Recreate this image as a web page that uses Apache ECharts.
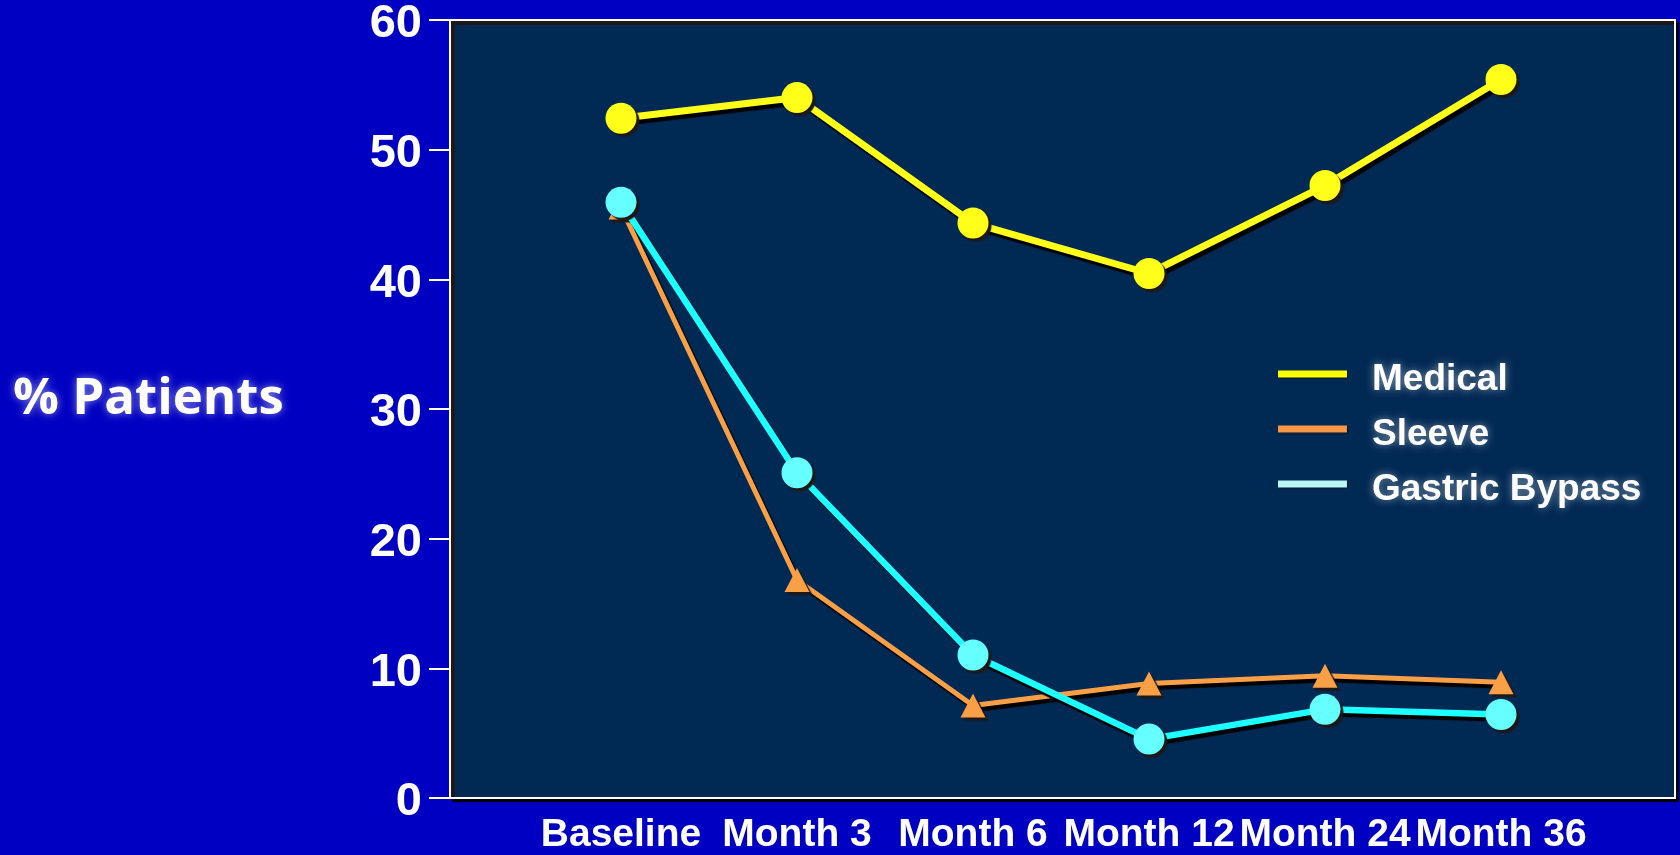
<!DOCTYPE html>
<html>
<head>
<meta charset="utf-8">
<script src="https://cdn.jsdelivr.net/npm/echarts@6/dist/echarts.min.js"></script>
<style>
  html, body { margin: 0; padding: 0; background: #0000c2; }
  #chart { width: 1680px; height: 855px; }
</style>
</head>
<body>
<div id="chart"></div>
<script>
// Share of patients at each follow-up visit, by treatment arm
const categories = ['Baseline', 'Month 3', 'Month 6', 'Month 12', 'Month 24', 'Month 36'];
const medical = [52.4, 54.0, 44.3, 40.4, 47.2, 55.4];
const sleeve = [45.5, 16.7, 7.0, 8.7, 9.3, 8.8];
const gastricBypass = [45.9, 25.0, 10.9, 4.4, 6.7, 6.3];
const yTicks = { min: 0, max: 60, interval: 10 };

const FONT = '"Liberation Sans", Arial, sans-serif';
const darkShadow = { shadowColor: 'rgba(0,0,0,1)', shadowBlur: 1, shadowOffsetX: 3, shadowOffsetY: 4 };
const markShadow = { shadowColor: 'rgba(30,25,25,1)', shadowBlur: 1, shadowOffsetX: 3, shadowOffsetY: 3 };
const legendIconShadow = { shadowColor: 'rgba(0,0,0,0.5)', shadowOffsetX: 1, shadowOffsetY: 1, shadowBlur: 1 };
// legend key: a bar sitting in the upper part of its box, so the label reads slightly lower
const legendBar = 'path://M0,0h69v7h-69zM0,18h0.01v0.01h-0.01z';

const tickLabelStyle = {
  fontFamily: FONT,
  fontWeight: 'bold',
  fontSize: 47,
  color: '#ffffff',
  textShadowColor: '#000000',
  textShadowOffsetX: 3,
  textShadowOffsetY: 3,
  textShadowBlur: 0
};

const chart = echarts.init(document.getElementById('chart'));

chart.setOption({
  animation: false,
  backgroundColor: '#0000c2',
  title: {
    text: '% Patients',
    left: 8,
    top: 369,
    textStyle: {
      fontFamily: '"Open Sans", sans-serif',
      fontWeight: 'bold',
      fontSize: 51,
      color: '#ffffff',
      textShadowColor: 'rgba(255,255,255,0.55)',
      textShadowBlur: 8
    }
  },
  legend: {
    orient: 'vertical',
    left: 1273,
    top: 356,
    icon: legendBar,
    itemWidth: 69,
    itemHeight: 18,
    itemGap: 18,
    selectedMode: false,
    textStyle: {
      fontFamily: FONT,
      fontWeight: 'bold',
      fontSize: 37,
      lineHeight: 36,
      color: '#ffffff',
      padding: [0, 0, 0, 20],
      textShadowColor: 'rgba(255,255,255,0.5)',
      textShadowBlur: 8
    },
    data: [
      { name: 'Medical', itemStyle: Object.assign({ color: '#ffff00' }, legendIconShadow) },
      { name: 'Sleeve', itemStyle: Object.assign({ color: '#f79646' }, legendIconShadow) },
      { name: 'Gastric Bypass', itemStyle: Object.assign({ color: '#b8f5f5' }, legendIconShadow) }
    ]
  },
  grid: [
    {
      // plotting frame with the value axis
      left: 450, right: 5, top: 20, bottom: 57,
      show: true,
      backgroundColor: '#002954',
      borderColor: '#ffffff',
      borderWidth: 2,
      shadowColor: 'rgba(0,0,0,0.9)',
      shadowBlur: 1,
      shadowOffsetX: 3,
      shadowOffsetY: 3
    },
    {
      // area where the follow-up points are spread
      left: 533, right: 91, top: 20, bottom: 57
    }
  ],
  graphic: [
    {
      type: 'polyline',
      z: 1,
      silent: true,
      shape: { points: [[453, 796], [453, 23], [1673, 23]] },
      style: { stroke: '#1a1a1a', lineWidth: 4, fill: null }
    }
  ],
  xAxis: [
    {
      gridIndex: 0,
      type: 'value',
      show: false
    },
    {
      gridIndex: 1,
      type: 'category',
      data: categories,
      boundaryGap: true,
      axisLine: { show: false },
      axisTick: { show: false },
      axisLabel: {
        interval: 0,
        margin: 20,
        fontFamily: FONT,
        fontWeight: 'bold',
        fontSize: 39,
        color: '#ffffff',
        textShadowColor: '#000000',
        textShadowOffsetX: 3,
        textShadowOffsetY: 3,
        textShadowBlur: 0
      }
    }
  ],
  yAxis: [
    {
      gridIndex: 0,
      type: 'value',
      min: yTicks.min,
      max: yTicks.max,
      interval: yTicks.interval,
      splitLine: { show: false },
      axisLine: { show: true, lineStyle: { color: '#ffffff', width: 2 } },
      axisTick: { show: true, inside: false, length: 21, lineStyle: { color: '#ffffff', width: 2 } },
      axisLabel: Object.assign({
        margin: 28,
        formatter: '{v|{value}}',
        rich: {
          // taller line box with the digits resting at its bottom: sits the number a touch below its tick
          v: Object.assign({ lineHeight: 56, verticalAlign: 'bottom' }, tickLabelStyle)
        }
      }, tickLabelStyle)
    },
    {
      gridIndex: 1,
      type: 'value',
      min: yTicks.min,
      max: yTicks.max,
      interval: yTicks.interval,
      show: false,
      splitLine: { show: false }
    }
  ],
  series: [
    {
      name: 'Sleeve',
      type: 'line',
      xAxisIndex: 1,
      yAxisIndex: 1,
      z: 3,
      data: sleeve,
      symbol: 'triangle',
      symbolSize: [25, 24],
      lineStyle: Object.assign({ color: '#f9a047', width: 5 }, darkShadow),
      itemStyle: Object.assign({ color: '#f9a047' }, markShadow),
      emphasis: { disabled: true }
    },
    {
      name: 'Gastric Bypass',
      type: 'line',
      xAxisIndex: 1,
      yAxisIndex: 1,
      z: 4,
      data: gastricBypass,
      symbol: 'circle',
      symbolSize: 31,
      lineStyle: Object.assign({ color: '#1effff', width: 6.5 }, darkShadow),
      itemStyle: Object.assign({ color: '#66ffff' }, markShadow),
      emphasis: { disabled: true }
    },
    {
      name: 'Medical',
      type: 'line',
      xAxisIndex: 1,
      yAxisIndex: 1,
      z: 5,
      data: medical,
      symbol: 'circle',
      symbolSize: 31,
      lineStyle: Object.assign({ color: '#ffff1a', width: 7 }, darkShadow),
      itemStyle: Object.assign({ color: '#ffff1a' }, markShadow),
      emphasis: { disabled: true }
    }
  ]
});
</script>
</body>
</html>
